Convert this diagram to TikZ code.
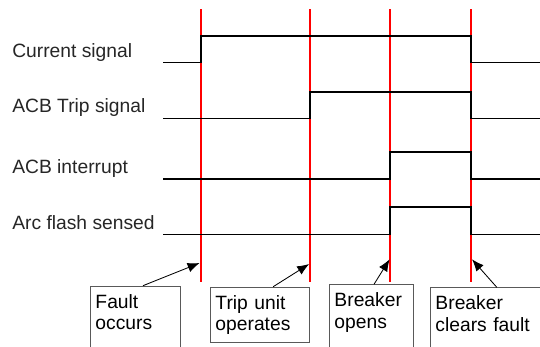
\documentclass[tikz,border=0pt]{standalone}
\usepackage{xcolor}
\usepackage{fontspec}
\setmainfont{Liberation Sans}
\usetikzlibrary{arrows.meta}

\tikzset{
  signal/.style={black, line width=1.4pt},
  marker/.style={red, line width=1.4pt},
  eventbox/.style={draw=black!65, line width=0.7pt, anchor=north west, align=left,
    inner xsep=0.125cm, inner ysep=5.6pt, font=\fontsize{13.7}{15.6}\selectfont},
  pointer/.style={black, line width=0.6pt, -{Latex[length=0.3cm,width=0.24cm]}}
}

\begin{document}
\begin{tikzpicture}[font=\fontsize{13.7}{15.6}\selectfont]
          \useasboundingbox (0,0) rectangle (13.5,8.65);
          \clip (0,0) rectangle (13.5,8.65);

          %signal names
          \node[anchor=base west, inner sep=0pt, text=black!85] (lcur) at (0.3,7.2175) {Current signal};
          \node[anchor=base west, inner sep=0pt, text=black!85] (ltrip) at (0.3,5.8425) {ACB Trip signal};
          \node[anchor=base west, inner sep=0pt, text=black!85] (lint) at (0.3,4.3175) {ACB interrupt};
          \node[anchor=base west, inner sep=0pt, text=black!85] (larc) at (0.3,2.9175) {Arc flash sensed};

          %time markers
          \draw[marker] (5.025,8.425) -- (5.025,1.6);
          \draw[marker] (7.75,8.425) -- (7.75,1.6);
          \draw[marker] (9.75,8.425) -- (9.75,1.6);
          \draw[marker] (11.775,8.425) -- (11.775,1.6);

          %waveforms
          \draw[signal] (4.075,7.0875) -- (5.025,7.0875) -- (5.025,7.75) -- (11.775,7.75) -- (11.775,7.0875) -- (13.5,7.0875);
          \draw[signal] (4.075,5.6875) -- (7.75,5.6875) -- (7.75,6.35) -- (11.775,6.35) -- (11.775,5.6875) -- (13.5,5.6875);
          \draw[signal] (4.075,4.175) -- (9.75,4.175) -- (9.75,4.85) -- (11.775,4.85) -- (11.775,4.175) -- (13.5,4.175);
          \draw[signal] (4.075,2.7875) -- (9.75,2.7875) -- (9.75,3.475) -- (11.775,3.475) -- (11.775,2.7875) -- (13.5,2.7875);

          %events
          \coordinate (hit1) at (4.99,2.075);
          \coordinate (hit2) at (7.73,2.05);
          \coordinate (hit3) at (9.74,2.1675);
          \coordinate (hit4) at (11.8,2.1675);

          \node[eventbox, text width=2.0cm, text depth=1cm] (fault) at (2.25,1.5075) {Fault\\occurs};
          \node[eventbox, text width=2.225cm, text depth=0.65cm] (trip) at (5.25,1.4825) {Trip unit\\operates};
          \node[eventbox, text width=1.85cm, text depth=1cm] (opens) at (8.225,1.5425) {Breaker\\opens};
          \node[eventbox, text width=2.6cm, text depth=1cm] (clears) at (10.75,1.4675) {Breaker\\clears fault};

          \draw[pointer] ([xshift=1.325cm]fault.north west) -- (hit1);
          \draw[pointer] ([xshift=1.58cm]trip.north west) -- (hit2);
          \draw[pointer] ([xshift=1.125cm]opens.north west) -- (hit3);
          \draw[pointer] ([xshift=1.67cm]clears.north west) -- (hit4);
          \end{tikzpicture}
\end{document}
